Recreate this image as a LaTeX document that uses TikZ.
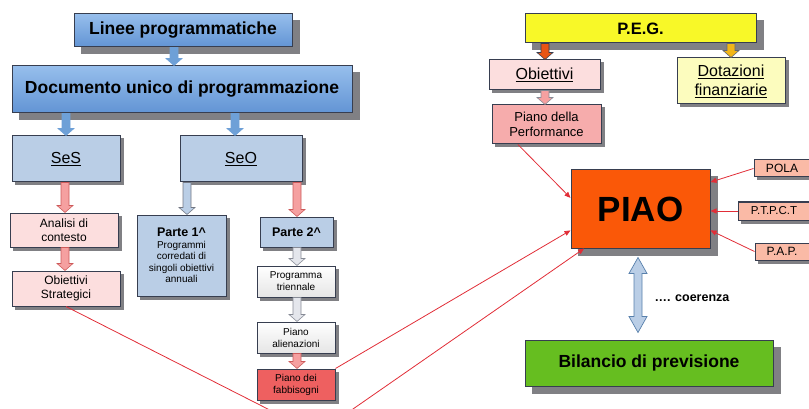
\documentclass[tikz,border=0pt]{standalone}
\usepackage{fontspec}
\setmainfont{Liberation Sans}
\usetikzlibrary{positioning, fit, arrows.meta}
\usetikzlibrary{calc}
\usetikzlibrary{shapes, arrows, backgrounds}
\definecolor{DupBlue}{RGB}{98,148,212}
\definecolor{DupBlueTop}{RGB}{150,190,236}
\definecolor{SecBlue}{RGB}{186,206,230}
\definecolor{SoftPink}{RGB}{252,222,222}
\definecolor{PerfPink}{RGB}{246,172,172}
\definecolor{FabRed}{RGB}{238,96,96}
\definecolor{PegYellow}{RGB}{248,248,40}
\definecolor{DotYellow}{RGB}{252,252,190}
\definecolor{PiaoOrange}{RGB}{250,88,8}
\definecolor{TagSalmon}{RGB}{250,186,166}
\definecolor{BilGreen}{RGB}{102,190,32}
\definecolor{LinkRed}{RGB}{225,45,55}
\definecolor{Edge}{RGB}{55,62,80}
\definecolor{ArrBlue}{RGB}{110,160,215}
\definecolor{ArrPink}{RGB}{245,160,160}
\definecolor{ArrPinkEdge}{RGB}{205,90,90}
\definecolor{ArrGray}{RGB}{228,230,236}
\definecolor{ArrOrange}{RGB}{232,84,20}
\definecolor{ArrGold}{RGB}{242,182,24}
\definecolor{BoxShade}{RGB}{128,128,132}

\tikzset{
  box/.style={draw=Edge, line width=1pt, align=center, inner sep=1pt},
  link/.style={draw=LinkRed, line width=0.8pt},
  linkarrow/.style={link, -{Triangle[length=6pt, width=5pt]}},
}

\begin{document}
\begin{tikzpicture}[x=1pt, y=-1pt]
  \useasboundingbox (0,0) rectangle (809,409);

  % Programmazione
  \node[box, top color=DupBlueTop, bottom color=DupBlue, minimum width=218pt, minimum height=33pt,
        font=\fontsize{17.5}{20}\selectfont\bfseries] (lp) at (183,30.5) {Linee programmatiche};
  \node[box, top color=DupBlueTop, bottom color=DupBlue, minimum width=340pt, minimum height=47pt,
        font=\fontsize{17.5}{20}\selectfont\bfseries] (duc) at (182,89.5) {Documento unico di programmazione};

  \node[box, fill=SecBlue, minimum width=108pt, minimum height=46pt,
        font=\fontsize{16}{19}\selectfont] (ses) at (66,159) {\underline{SeS}};
  \node[box, fill=SecBlue, minimum width=122pt, minimum height=46pt,
        font=\fontsize{16}{19}\selectfont] (seo) at (241,159) {\underline{SeO}};

  \node[box, fill=SoftPink, minimum width=108pt, minimum height=34pt,
        font=\fontsize{12}{14}\selectfont] (analisi) at (64,230) {Analisi di\\contesto};
  \node[box, fill=SoftPink, minimum width=108pt, minimum height=35pt,
        font=\fontsize{12}{13.5}\selectfont] (obstr) at (66,288.5) {Obiettivi\\Strategici};

  \node[box, fill=SecBlue, minimum width=89pt, minimum height=81pt,
        font=\fontsize{10}{11.5}\selectfont] (parte1) at (181.5,255.5)
        {{\fontsize{12.5}{15}\selectfont\bfseries Parte 1\textasciicircum}\\Programmi\\corredati di\\singoli obiettivi\\annuali};
  \node[box, fill=SecBlue, minimum width=73pt, minimum height=30pt,
        font=\fontsize{12.5}{15}\selectfont\bfseries] (parte2) at (296.5,232) {Parte 2\textasciicircum};

  \node[box, top color=white, bottom color=black!10, minimum width=78pt, minimum height=31pt,
        font=\fontsize{10}{12}\selectfont] (progtri) at (296,281.5) {Programma\\triennale};
  \node[box, top color=white, bottom color=black!10, minimum width=78pt, minimum height=31pt,
        font=\fontsize{10}{12}\selectfont] (pianoal) at (296,337.5) {Piano\\alienazioni};
  \node[box, fill=FabRed, minimum width=78pt, minimum height=31pt,
        font=\fontsize{10}{12}\selectfont] (pianofab) at (296,384.5) {Piano dei\\fabbisogni};

  % P.E.G. e PIAO
  \node[box, fill=PegYellow, minimum width=231pt, minimum height=29pt,
        font=\fontsize{16.5}{19}\selectfont\bfseries] (peg) at (640.5,28.5) {P.E.G.};
  \node[box, fill=SoftPink, minimum width=111pt, minimum height=30pt,
        font=\fontsize{16}{19}\selectfont] (obiettivi) at (544.5,75) {\underline{Obiettivi}};
  \node[box, fill=DotYellow, minimum width=108pt, minimum height=46pt,
        font=\fontsize{16}{19}\selectfont] (dotazioni) at (731,81) {\underline{Dotazioni}\\\underline{finanziarie}};
  \node[box, fill=PerfPink, minimum width=109pt, minimum height=39pt,
        font=\fontsize{13}{15}\selectfont] (perf) at (546.5,124.5) {Piano della\\Performance};

  \node[box, fill=PiaoOrange, minimum width=139pt, minimum height=78pt,
        font=\fontsize{35}{40}\selectfont\bfseries] (piao) at (640.5,209) {PIAO};

  \node[box, fill=TagSalmon, minimum width=62pt, minimum height=17pt,
        font=\fontsize{12}{14}\selectfont] (pola) at (785,168.5) {POLA\hspace{6pt}};
  \node[box, fill=TagSalmon, minimum width=78pt, minimum height=18pt,
        font=\fontsize{11.5}{14}\selectfont] (ptpct) at (777,211) {P.T.P.C.T\hspace{6pt}};
  \node[box, fill=TagSalmon, minimum width=62pt, minimum height=17pt,
        font=\fontsize{12}{14}\selectfont] (pap) at (786,251.5) {P.A.P.\hspace{8pt}};

  \node[box, fill=BilGreen, minimum width=248pt, minimum height=46pt,
        font=\fontsize{17.5}{20}\selectfont\bfseries] (bil) at (649,363) {Bilancio di previsione};
  \node[font=\fontsize{12.5}{15}\selectfont\bfseries] (coer) at (692,298) {…. coerenza};

  % Ombre
  \begin{scope}[on background layer]
    \foreach \n/\s in {lp/7, duc/7, peg/7, piao/7, bil/7, ses/3, seo/3, analisi/3, obstr/3, parte1/3, parte2/3,
        progtri/3, pianoal/3, pianofab/3, obiettivi/3, dotazioni/3, perf/3, pola/3, ptpct/3, pap/3}
      \fill[BoxShade] ($(\n.south west)+(\s,\s)$) rectangle ($(\n.north east)+(\s,\s)$);
  \end{scope}

  % Frecce a blocco
  \foreach \src/\tgt/\ax/\fc/\ec in {lp/duc/174/ArrBlue/ArrBlue, duc/ses/66/ArrBlue/ArrBlue, duc/seo/235/ArrBlue/ArrBlue,
      ses/analisi/65/ArrPink/ArrPinkEdge, analisi/obstr/65/ArrPink/ArrPinkEdge,
      seo/parte1/187/SecBlue/Edge!70, seo/parte2/297/ArrPink/ArrPinkEdge,
      parte2/progtri/297/ArrGray/Edge!60, progtri/pianoal/297/ArrGray/Edge!60, pianoal/pianofab/297/ArrPink/ArrPinkEdge,
      peg/obiettivi/545/ArrOrange/Edge, peg/dotazioni/731/ArrGold/Edge!80, obiettivi/perf/545/ArrPink/Edge!60}{
    \filldraw[fill=\fc, draw=\ec, line width=0.6pt]
      let \p1=(\src.south), \p2=(\tgt.north) in
      (\ax pt-4pt,\y1) -- (\ax pt+4pt,\y1) -- (\ax pt+4pt,\y2+7pt) -- (\ax pt+8pt,\y2+7pt)
      -- (\ax pt,\y2) -- (\ax pt-8pt,\y2+7pt) -- (\ax pt-4pt,\y2+7pt) -- cycle;
  }

  % Coerenza PIAO - Bilancio
  \filldraw[fill=SecBlue, draw=ArrBlue!80!black, line width=0.7pt]
    let \p1=(piao.south), \p2=(bil.north) in
    (\x1-2.5pt,\y1-9pt) -- (\x1+6.5pt,\y1-25pt) -- (\x1+1.5pt,\y1-25pt) -- (\x1+1.5pt,\y2+23pt)
    -- (\x1+6.5pt,\y2+23pt) -- (\x1-2.5pt,\y2+7pt) -- (\x1-11.5pt,\y2+23pt) -- (\x1-6.5pt,\y2+23pt)
    -- (\x1-6.5pt,\y1-25pt) -- (\x1-11.5pt,\y1-25pt) -- cycle;

  % Collegamenti al PIAO
  \coordinate (join) at (317,434);
  \draw[link] (obstr.south) -- (join);
  \draw[linkarrow] (join) -- (piao.215);
  \draw[linkarrow] (pianofab.north east) -- (piao.197);
  \draw[linkarrow] (perf.215) -- (piao.171);
  \draw[linkarrow] (pola.west) -- (piao.21);
  \draw[linkarrow] (ptpct.west) -- (ptpct.west -| piao.east);
  \draw[linkarrow] (pap.west) -- (piao.-17);
\end{tikzpicture}
\end{document}
